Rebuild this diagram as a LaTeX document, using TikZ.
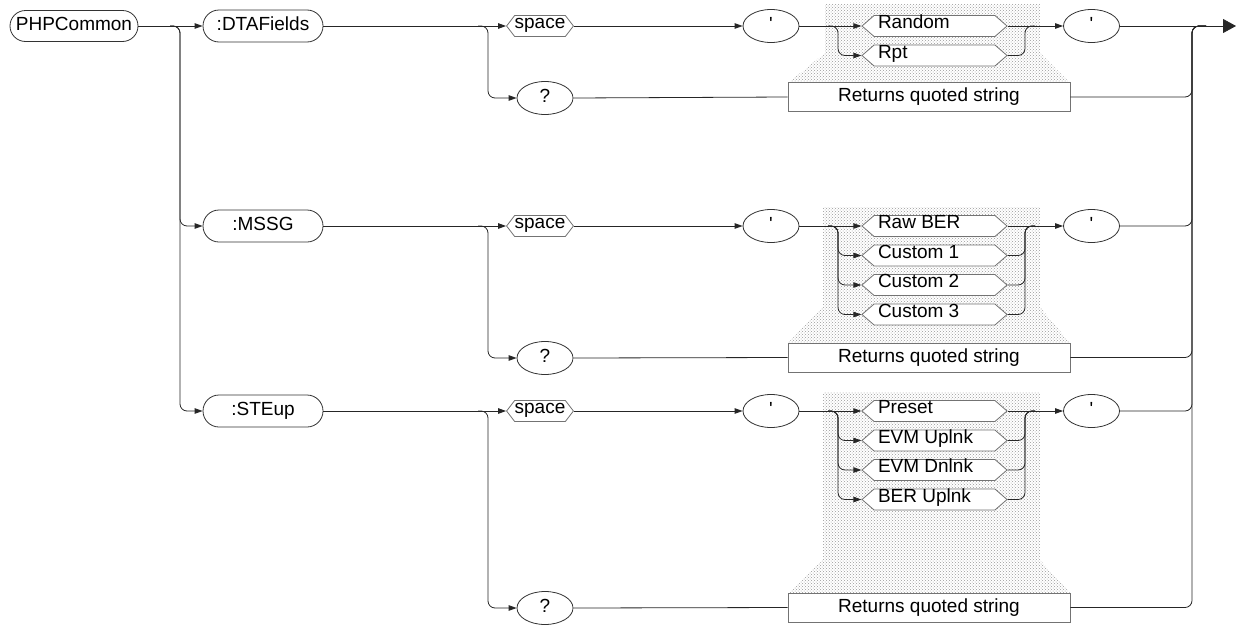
\documentclass[tikz,border=0pt]{standalone}
\usepackage{fontspec}
\setmainfont{Liberation Sans}
\usetikzlibrary{shapes.misc,shapes.symbols,shapes.geometric,arrows.meta,patterns}
% left-aligned, slightly lowered label inside a choice box
\newcommand\choicelabel[1]{\makebox[113pt][l]{\raisebox{-2.5pt}[0pt][0pt]{#1}}}
\newcommand\seplabel[1]{\raisebox{-2.5pt}[0pt][0pt]{#1}}
\begin{document}
\begin{tikzpicture}[x=1pt,y=-1pt,
  font=\fontsize{19}{21}\selectfont,
  every node/.style={inner sep=0pt, line width=0.8pt},
  link/.style={line width=0.8pt, draw=black!85},
  arr/.style={link, -{Triangle[length=8pt,width=5.5pt]}},
  turn/.style={rounded corners=7pt},
  keyword/.style={rounded rectangle, draw=black!80, fill=white,
    minimum width=120pt, minimum height=32pt, text height=13pt, text depth=4pt},
  oval/.style={ellipse, draw=black!80, fill=white,
    minimum width=56pt, minimum height=33pt, text height=13pt, text depth=4pt},
  sepbox/.style={signal, signal to=west and east, signal pointer angle=105,
    draw=black!55, fill=white, minimum width=63pt, minimum height=21pt},
  choice/.style={signal, signal to=west and east, signal pointer angle=82,
    draw=black!55, fill=white, minimum width=145pt, minimum height=21pt},
  retbox/.style={rectangle, draw=black!55, fill=white,
    minimum width=282pt, minimum height=29pt, text height=13pt, text depth=4pt},
  shade/.style={pattern=crosshatch dots, pattern color=black!40, draw=none}
]
\useasboundingbox (0,0) rectangle (1236,624);

% dotted background panels behind the choice lists
\fill[shade] (825,4) -- (1040,4) -- (1040,53) -- (1070,83) -- (788,83) -- (825,53) -- cycle;
\fill[shade] (823,207) -- (1040,207) -- (1040,307) -- (1070,343) -- (788,343) -- (823,307) -- cycle;
\fill[shade] (823,392) -- (1040,392) -- (1040,560) -- (1070,593) -- (788,593) -- (823,560) -- cycle;

% root and subcommands
\node[keyword, minimum width=128pt, minimum height=31pt] (php) at (74,26) {PHPCommon};
\node[keyword] (dta) at (263,26) {:DTAFields};
\node[keyword] (mssg) at (263,226) {:MSSG};
\node[keyword] (steup) at (263,411) {:STEup};
\coordinate (fork0) at (170,26);

% :DTAFields row
\node[sepbox] (sp1) at (540,26) {\seplabel{space}};
\node[oval] (qa1) at (545,98) {?};
\node[oval] (ta1) at (771,26) {\textquotesingle};
\node[choice] (c11) at (934.5,26) {\choicelabel{Random}};
\node[choice] (c12) at (934.5,55.5) {\choicelabel{Rpt}};
\node[oval] (tb1) at (1091.5,26) {\textquotesingle};
\node[retbox] (r1) at (929,97) {Returns quoted string};

% :MSSG row
\node[sepbox] (sp2) at (540,226) {\seplabel{space}};
\node[oval] (qa2) at (545,358) {?};
\node[oval] (ta2) at (771,226) {\textquotesingle};
\node[choice] (c21) at (934.5,226) {\choicelabel{Raw BER}};
\node[choice] (c22) at (934.5,255.5) {\choicelabel{Custom 1}};
\node[choice] (c23) at (934.5,285) {\choicelabel{Custom 2}};
\node[choice] (c24) at (934.5,314.5) {\choicelabel{Custom 3}};
\node[oval] (tb2) at (1091.5,226) {\textquotesingle};
\node[retbox] (r2) at (929,357.5) {Returns quoted string};

% :STEup row
\node[sepbox] (sp3) at (540,411) {\seplabel{space}};
\node[oval] (qa3) at (545,608) {?};
\node[oval] (ta3) at (771,411) {\textquotesingle};
\node[choice] (c31) at (934.5,411) {\choicelabel{Preset}};
\node[choice] (c32) at (934.5,440.5) {\choicelabel{EVM Uplnk}};
\node[choice] (c33) at (934.5,470) {\choicelabel{EVM Dnlnk}};
\node[choice] (c34) at (934.5,499.5) {\choicelabel{BER Uplnk}};
\node[oval] (tb3) at (1091.5,411) {\textquotesingle};
\node[retbox] (r3) at (929,607.5) {Returns quoted string};

\coordinate (railtop) at (1192,26);
\coordinate (end) at (1236,26);

% root to subcommands
\draw[arr] (php.east) -- (dta.west);
\draw[arr,turn] (fork0) -| (180,226) -- (mssg.west);
\draw[arr,turn] (fork0) -| (180,411) -- (steup.west);

% :DTAFields connectors
\draw[arr] (dta.east) -- (sp1.west);
\draw[arr,turn] (478,26) -| (488,98) -- (qa1.west);
\draw[arr] (sp1.east) -- (ta1.west);
\draw[arr] (ta1.east) -- (c11.west);
\draw[arr,turn] (828,26) -| (838,55.5) -- (c12.west);
\draw[arr] (c11.east) -- (tb1.west);
\draw[link,turn] (c12.east) -| (1025,26) -- (1035,26);
\draw[link] (qa1.east) -- (r1.west);
\draw[link,turn] (r1.east) -| (railtop) -- (1206,26);
\draw[link,-{Triangle[length=13pt,width=14pt]}] (tb1.east) -- (end);

% :MSSG connectors
\draw[arr] (mssg.east) -- (sp2.west);
\draw[arr,turn] (478,226) -| (488,358) -- (qa2.west);
\draw[arr] (sp2.east) -- (ta2.west);
\draw[arr] (ta2.east) -- (c21.west);
\draw[arr,turn] (828,226) -| (838,255.5) -- (c22.west);
\draw[arr,turn] (828,226) -| (838,285) -- (c23.west);
\draw[arr,turn] (828,226) -| (838,314.5) -- (c24.west);
\draw[arr] (c21.east) -- (tb2.west);
\draw[link,turn] (c22.east) -| (1025,226) -- (1035,226);
\draw[link,turn] (c23.east) -| (1025,226) -- (1035,226);
\draw[link,turn] (c24.east) -| (1025,226) -- (1035,226);
\draw[link] (qa2.east) -- (r2.west);
\draw[link,turn] (tb2.east) -| (railtop) -- (1206,26);
\draw[link,turn] (r2.east) -| (railtop) -- (1206,26);

% :STEup connectors
\draw[arr] (steup.east) -- (sp3.west);
\draw[arr,turn] (478,411) -| (488,608) -- (qa3.west);
\draw[arr] (sp3.east) -- (ta3.west);
\draw[arr] (ta3.east) -- (c31.west);
\draw[arr,turn] (828,411) -| (838,440.5) -- (c32.west);
\draw[arr,turn] (828,411) -| (838,470) -- (c33.west);
\draw[arr,turn] (828,411) -| (838,499.5) -- (c34.west);
\draw[arr] (c31.east) -- (tb3.west);
\draw[link,turn] (c32.east) -| (1025,411) -- (1035,411);
\draw[link,turn] (c33.east) -| (1025,411) -- (1035,411);
\draw[link,turn] (c34.east) -| (1025,411) -- (1035,411);
\draw[link] (qa3.east) -- (r3.west);
\draw[link,turn] (tb3.east) -| (railtop) -- (1206,26);
\draw[link,turn] (r3.east) -| (railtop) -- (1206,26);
\end{tikzpicture}
\end{document}
